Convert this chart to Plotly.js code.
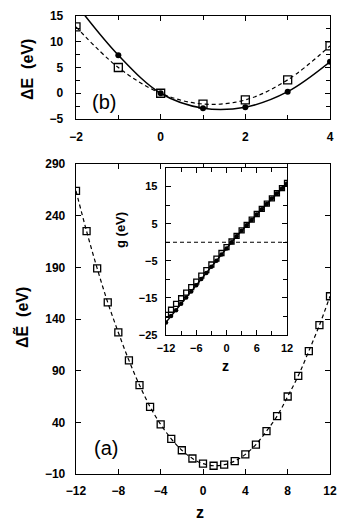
<!DOCTYPE html>
<html>
<head>
<meta charset="utf-8">
<script src="https://cdn.plot.ly/plotly-3.0.1.min.js"></script>
<style>
  html, body { margin: 0; padding: 0; background: #fff; }
  #chart { width: 354px; height: 524px; }
</style>
</head>
<body>
<div id="chart"></div>
<script>
// panel (b): small z range
var zTop = [-2, -1, 0, 1, 2, 3, 4];
var eTopSquares = [12.9, 5.0, 0.0, -2.1, -1.3, 2.6, 9.2];
var eTopCircles = [17.3, 7.4, 0.0, -2.9, -2.7, 0.3, 6.1];

// panel (a): full z range
var zMain = [-12, -11, -10, -9, -8, -7, -6, -5, -4, -3, -2, -1, 0, 1, 2, 3, 4, 5, 6, 7, 8, 9, 10, 11, 12];
var eMain = [264, 225, 189, 156, 127, 100, 76, 55, 38, 24, 13, 5, 0, -2, -1, 2.5, 9, 18.5, 31.5, 46, 65, 85, 109, 134, 162];

// inset: g(z)
var gLine = [-21.6, -19.9, -18.3, -16.6, -14.9, -13.3, -11.6, -9.9, -8.3, -6.6, -5.0, -3.3, -1.7,
             0.0, 1.6, 3.1, 4.6, 6.0, 7.5, 8.9, 10.3, 11.8, 13.1, 14.5, 15.8];
var gSquares = [-19.6, -18.2, -16.6, -15.1, -13.6, -12.1, -10.6, -9.0, -7.5, -6.0, -4.4, -2.9, -1.3,
                0.2, 1.7, 3.2, 4.7, 6.1, 7.6, 9.0, 10.4, 11.8, 13.2, 14.6, 16.0];
var zeroZ = [-12, 12];
var zeroG = [0, 0];

var W = 354, H = 524;
function px(x) { return x / W; }
function py(y) { return 1 - y / H; }

var dashed = {color: 'black', width: 1.2, dash: '4px,3px', shape: 'spline', smoothing: 1};
var solid = {color: 'black', width: 1.5, shape: 'spline', smoothing: 1};
var openSq = function (s) { return {symbol: 'square-open', size: s, color: 'black', line: {width: 1.3, color: 'black'}}; };
var dot = function (s) { return {symbol: 'circle', size: s, color: 'black'}; };

var data = [
  {x: zTop, y: eTopSquares, xaxis: 'x', yaxis: 'y', mode: 'lines+markers', line: dashed, marker: openSq(8)},
  {x: zTop, y: eTopCircles, xaxis: 'x', yaxis: 'y', mode: 'lines+markers', line: solid, marker: dot(6)},

  {x: zMain, y: eMain, xaxis: 'x2', yaxis: 'y2', mode: 'lines+markers', line: dashed, marker: openSq(7)},

  {x: zeroZ, y: zeroG, xaxis: 'x3', yaxis: 'y3', mode: 'lines', line: {color: 'black', width: 1.1, dash: '4px,3px'}},
  {x: zMain, y: gSquares, xaxis: 'x3', yaxis: 'y3', mode: 'markers', marker: openSq(5)},
  {x: zMain, y: gLine, xaxis: 'x3', yaxis: 'y3', mode: 'lines+markers', line: {color: 'black', width: 1.4}, marker: dot(4.5)}
];

var tickFont = {family: 'Liberation Sans, Arial, sans-serif', size: 12, color: 'black', weight: 'bold'};
function ax(extra) {
  var a = {
    showline: true, linecolor: 'black', linewidth: 1.3, mirror: 'ticks',
    ticks: 'inside', ticklen: 5, tickwidth: 1, tickcolor: 'black',
    showgrid: false, zeroline: false, fixedrange: true,
    tickfont: tickFont, ticklabelstandoff: 4
  };
  for (var k in extra) a[k] = extra[k];
  return a;
}

function label(x, y, text, font, angle) {
  return {xref: 'paper', yref: 'paper', x: px(x), y: py(y), xanchor: 'center', yanchor: 'middle',
          text: text, textangle: angle || 0, showarrow: false, font: font};
}

var layout = {
  width: W, height: H, autosize: false,
  margin: {l: 0, r: 0, t: 0, b: 0},
  paper_bgcolor: 'white', plot_bgcolor: 'white',
  showlegend: false,
  font: {family: 'Liberation Sans, Arial, sans-serif', color: 'black'},

  xaxis: ax({domain: [px(76), px(330)], anchor: 'y', range: [-2, 4], tick0: -2, dtick: 2,
             ticklabelstandoff: 6,
             minor: {dtick: 1, ticks: 'inside', ticklen: 4, tickcolor: 'black'}}),
  yaxis: ax({domain: [py(119), py(16)], anchor: 'x', range: [-5, 15], tick0: -5, dtick: 5,
             ticklabelstandoff: 9,
             minor: {dtick: 2.5, ticks: 'inside', ticklen: 4, tickcolor: 'black'}}),

  xaxis2: ax({domain: [px(76), px(330)], anchor: 'y2', range: [-12, 12], tick0: -12, dtick: 4,
              ticklabelstandoff: 5}),
  yaxis2: ax({domain: [py(474), py(164)], anchor: 'x2', range: [-10, 290], tick0: -10, dtick: 50,
              ticklabelstandoff: 7}),

  xaxis3: ax({domain: [px(166), px(287)], anchor: 'y3', range: [-12, 12], tick0: -12, dtick: 6,
              tickfont: {family: tickFont.family, size: 11, color: 'black', weight: 'bold'},
              ticklabelstandoff: 2,
              minor: {dtick: 3, ticks: 'inside', ticklen: 4, tickcolor: 'black'}}),
  yaxis3: ax({domain: [py(335), py(168)], anchor: 'x3', range: [-25, 20], tick0: -25, dtick: 10,
              tickfont: {family: tickFont.family, size: 11, color: 'black', weight: 'bold'},
              ticklabelstandoff: 5,
              minor: {dtick: 5, ticks: 'inside', ticklen: 4, tickcolor: 'black'}}),

  annotations: [
    label(27, 70, '\u0394E  (eV)', {size: 16, weight: 'bold'}, -90),
    label(21, 318, '\u0394E\u0303  (eV)', {size: 16, weight: 'bold'}, -90),
    label(200, 512, 'z', {size: 16, weight: 'bold'}),
    label(225, 366, 'z', {size: 14, weight: 'bold'}),
    label(120, 230, 'g (eV)', {size: 13, weight: 'bold'}, -90),
    label(104, 102, '(b)', {size: 20}),
    label(106, 448, '(a)', {size: 20})
  ]
};

Plotly.newPlot('chart', data, layout, {displayModeBar: false, staticPlot: true});
</script>
</body>
</html>
